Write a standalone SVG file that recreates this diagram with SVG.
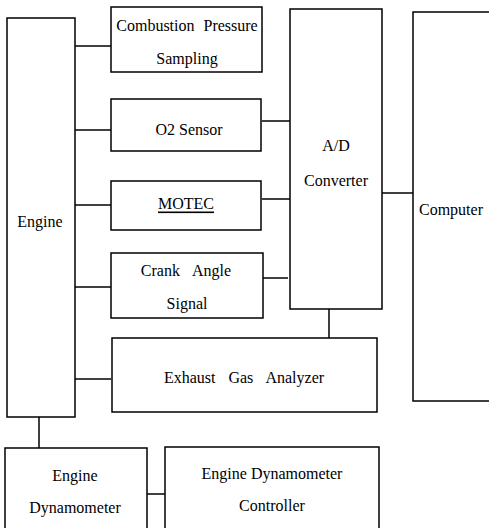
<svg xmlns="http://www.w3.org/2000/svg" width="489" height="528" viewBox="0 0 489 528">
<style>
rect{fill:none;stroke:#000;stroke-width:1.5}
line{stroke:#000;stroke-width:1.5}
text{font-family:"Liberation Serif","Times New Roman",serif;font-size:16px;fill:#000;text-anchor:middle;dominant-baseline:central}
.ws{word-spacing:9px}
</style>
<rect width="489" height="528" fill="#fff" style="fill:#fff;stroke:none"/>
<g id="connectors">
<line x1="75" y1="46" x2="111" y2="46"/>
<line x1="75" y1="130" x2="111" y2="130"/>
<line x1="75" y1="205" x2="111" y2="205"/>
<line x1="75" y1="287" x2="111" y2="287"/>
<line x1="75" y1="379" x2="111" y2="379"/>
<line x1="262" y1="121" x2="290" y2="121"/>
<line x1="262" y1="199" x2="290" y2="199"/>
<line x1="263" y1="278" x2="288" y2="278"/>
<line x1="382" y1="193" x2="413" y2="193"/>
<line x1="329" y1="309" x2="329" y2="338"/>
<line x1="39" y1="417" x2="39" y2="448"/>
<line x1="147" y1="494" x2="165" y2="494"/>
</g>
<g id="engine"><rect x="7" y="18" width="68" height="399"/><text x="40" y="221">Engine</text></g>
<g id="combustion"><rect x="111" y="7" width="151" height="65"/><text x="187" y="25" style="word-spacing:5px">Combustion Pressure</text><text x="187" y="58">Sampling</text></g>
<g id="o2"><rect x="111" y="99" width="150" height="52"/><text x="189" y="129">O2 Sensor</text></g>
<g id="motec"><rect x="111" y="181" width="150" height="49"/><text x="186" y="203" style="text-decoration:underline">MOTEC</text></g>
<g id="crank"><rect x="111" y="253" width="152" height="65"/><text class="ws" x="186" y="270">Crank Angle</text><text x="187" y="303">Signal</text></g>
<g id="ad"><rect x="290" y="9" width="92" height="300"/><text x="336" y="145">A/D</text><text x="336" y="180">Converter</text></g>
<g id="computer"><rect x="413" y="12" width="82" height="389"/><text x="451" y="209">Computer</text></g>
<g id="exhaust"><rect x="112" y="338" width="265" height="74"/><text class="ws" x="244" y="377">Exhaust Gas Analyzer</text></g>
<g id="dyno"><rect x="5" y="448" width="142" height="90"/><text x="75" y="475">Engine</text><text x="75" y="507">Dynamometer</text></g>
<g id="controller"><rect x="165" y="447" width="214" height="90"/><text x="272" y="473">Engine Dynamometer</text><text x="272" y="505">Controller</text></g>
</svg>
